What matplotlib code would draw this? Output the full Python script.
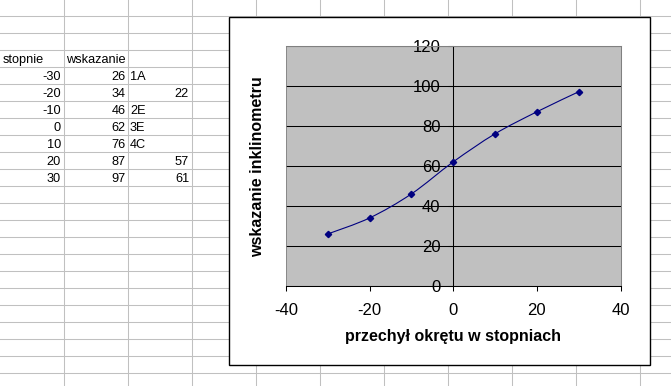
import numpy as np
import matplotlib.pyplot as plt
from matplotlib.patches import Rectangle, PathPatch
from matplotlib.path import Path

plt.rcParams['font.family'] = ['Liberation Sans', 'DejaVu Sans']
plt.rcParams['axes.unicode_minus'] = False

# data from the sheet
stopnie = [-30, -20, -10, 0, 10, 20, 30]
wskazanie = [26, 34, 46, 62, 76, 87, 97]
kol_c_txt = ['1A', '', '2E', '3E', '4C', '', '']
kol_d = ['', '22', '', '', '', '57', '61']

x_ticks = [-40, -20, 0, 20, 40]
y_ticks = [0, 20, 40, 60, 80, 100, 120]

W, H = 671, 386
fig = plt.figure(figsize=(W / 100, H / 100), dpi=100)
fig.patch.set_facecolor('white')

# background: the spreadsheet in pixel coords
bg = fig.add_axes([0, 0, 1, 1])
bg.set_xlim(0, W)
bg.set_ylim(H, 0)
bg.axis('off')

grid_c = '#c0c0c0'
for cx in np.arange(63.5, W, 64):
    bg.axvline(cx, color=grid_c, lw=0.75, zorder=1)
for ry in np.arange(15.5, H, 17):
    bg.axhline(ry, color=grid_c, lw=0.75, zorder=1)

fs_cell = 9.2
bg.text(3, 63, 'stopnie', fontsize=fs_cell, ha='left', va='baseline')
bg.text(66, 63, 'wskazanie', fontsize=fs_cell, ha='left', va='baseline')
for i in range(len(stopnie)):
    yb = 80 + 17 * i
    bg.text(61, yb, str(stopnie[i]), fontsize=fs_cell, ha='right', va='baseline')
    bg.text(125.5, yb, str(wskazanie[i]), fontsize=fs_cell, ha='right', va='baseline')
    if kol_c_txt[i]:
        bg.text(130, yb, kol_c_txt[i], fontsize=fs_cell, ha='left', va='baseline')
    if kol_d[i]:
        bg.text(189, yb, kol_d[i], fontsize=fs_cell, ha='right', va='baseline')

# chart object frame
bg.add_patch(Rectangle((228.5, 16.5), 421, 348.5, facecolor='white',
                       edgecolor='black', lw=1.0, zorder=3))

# axis titles
bg.text(452.7, 336, 'przechył okrętu w stopniach', fontsize=11.5,
        fontweight='bold', ha='center', va='center', zorder=4)
bg.text(257.3, 166.7, 'wskazanie inklinometru', fontsize=11.5,
        fontweight='bold', ha='center', va='center', rotation=90, zorder=4)

# plot area
ax = fig.add_axes([286 / W, (H - 286) / H, 334.5 / W, 240.3 / H])
ax.set_facecolor('#c0c0c0')
ax.set_xlim(-40, 40)
ax.set_ylim(0, 120)
ax.set_xticks(x_ticks)
ax.set_yticks(y_ticks)
ax.set_axisbelow(True)
ax.yaxis.grid(True, color='black', lw=0.75)
ax.get_ygridlines()[-1].set_visible(False)
ax.get_ygridlines()[0].set_visible(False)

ax.spines['left'].set_position(('data', 0))
ax.spines['left'].set_color('black')
ax.spines['left'].set_linewidth(0.75)
ax.spines['bottom'].set_color('black')
ax.spines['bottom'].set_linewidth(0.75)
for s in ['top', 'right']:
    ax.spines[s].set_color('#808080')
    ax.spines[s].set_linewidth(0.75)
ax.axvline(-40, color='#808080', lw=1.2, zorder=0.6)

ax.tick_params(axis='both', direction='out', length=3.6, width=0.75,
               labelsize=12, color='black')
ax.tick_params(axis='y', pad=5.5)
ax.tick_params(axis='x', pad=8.5)

# smoothed line like Excel (bezier through the data points)
pts = np.column_stack([stopnie, wskazanie]).astype(float)
verts = [pts[0]]
codes = [Path.MOVETO]
n = len(pts)
for i in range(n - 1):
    p0 = pts[i - 1] if i > 0 else pts[i]
    p1 = pts[i]
    p2 = pts[i + 1]
    p3 = pts[i + 2] if i + 2 < n else pts[i + 1]
    c1 = p1 + (p2 - p0) / 6
    c2 = p2 - (p3 - p1) / 6
    verts += [c1, c2, p2]
    codes += [Path.CURVE4] * 3
ax.add_patch(PathPatch(Path(verts, codes), facecolor='none',
                       edgecolor='#000080', lw=0.8, zorder=2))
ax.plot(stopnie, wskazanie, linestyle='none', marker='D', markersize=3.2,
        color='#000080', zorder=3)

fig.savefig('out.png', dpi=100)
